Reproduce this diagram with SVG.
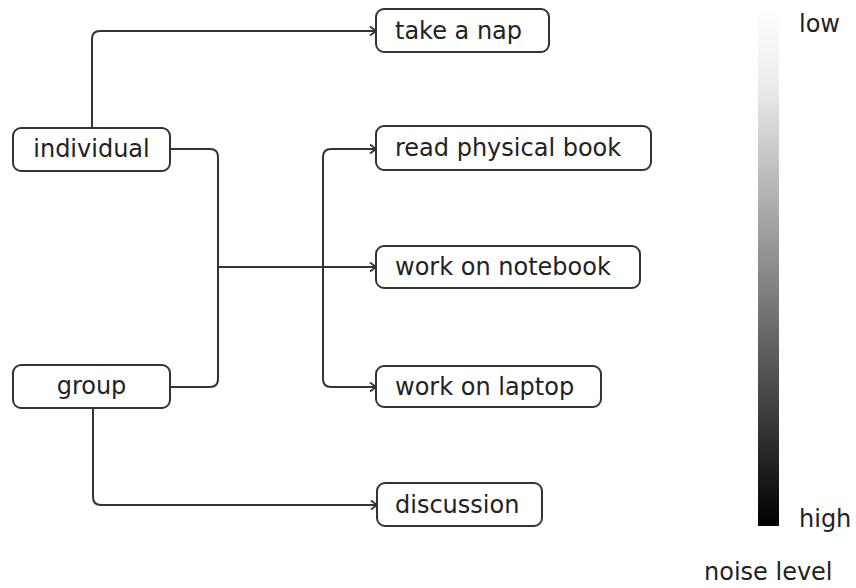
<svg xmlns="http://www.w3.org/2000/svg" width="856" height="588" viewBox="0 0 856 588">
<style>
.box{fill:#fff;stroke:#333;stroke-width:2}
.lbl{font-family:"DejaVu Sans",sans-serif;font-size:24px;fill:#222}
.c{text-anchor:middle}
.edge{fill:none;stroke:#333;stroke-width:2}
</style>
<defs>
<marker id="arr" markerWidth="10" markerHeight="12" refX="7" refY="5" orient="auto" markerUnits="userSpaceOnUse">
<path d="M1,0.5 L7,5 L1,9.5" fill="none" stroke="#333" stroke-width="1.8"/>
</marker>
<linearGradient id="noise" x1="0" y1="0" x2="0" y2="1">
<stop offset="0" stop-color="#fff"/>
<stop offset="0.15" stop-color="#ececec"/>
<stop offset="0.5" stop-color="#8c8c8c"/>
<stop offset="0.85" stop-color="#2a2a2a"/>
<stop offset="1" stop-color="#000"/>
</linearGradient>
</defs>
<g id="connectors">
<path class="edge" d="M92,128 V39 Q92,31 100,31 H376" marker-end="url(#arr)"/>
<path class="edge" d="M170,149 H210 Q218,149 218,157 V379 Q218,387 210,387 H170"/>
<path class="edge" d="M218,267 H376" marker-end="url(#arr)"/>
<path class="edge" d="M376,149 H331 Q323,149 323,157 V379 Q323,387 331,387 H376" marker-end="url(#arr)"/>
<path class="edge" d="M331,149 H376" marker-end="url(#arr)"/>
<path class="edge" d="M93,408 V497 Q93,505 101,505 H377" marker-end="url(#arr)"/>
</g>
<g id="individual"><rect class="box" x="13" y="128" width="157" height="43" rx="8"/><text class="lbl c" x="91.5" y="157">individual</text></g>
<g id="group"><rect class="box" x="13" y="365" width="157" height="43" rx="8"/><text class="lbl c" x="91.5" y="394">group</text></g>
<g id="take-a-nap"><rect class="box" x="376" y="9" width="173" height="43" rx="8"/><text class="lbl" x="395" y="38.5">take a nap</text></g>
<g id="read-physical-book"><rect class="box" x="376" y="126" width="275" height="44" rx="8"/><text class="lbl" x="395" y="156">read physical book</text></g>
<g id="work-on-notebook"><rect class="box" x="376" y="246" width="264" height="42" rx="8"/><text class="lbl" x="395" y="275">work on notebook</text></g>
<g id="work-on-laptop"><rect class="box" x="376" y="366" width="225" height="41" rx="8"/><text class="lbl" x="395" y="394.5">work on laptop</text></g>
<g id="discussion"><rect class="box" x="377" y="483" width="165" height="43" rx="8"/><text class="lbl" x="395" y="512.5">discussion</text></g>
<g id="legend">
<rect x="758" y="8" width="21" height="518" fill="url(#noise)"/>
<text class="lbl" x="799" y="32">low</text>
<text class="lbl" x="799" y="527">high</text>
<text class="lbl" x="704" y="580">noise level</text>
</g>
</svg>
